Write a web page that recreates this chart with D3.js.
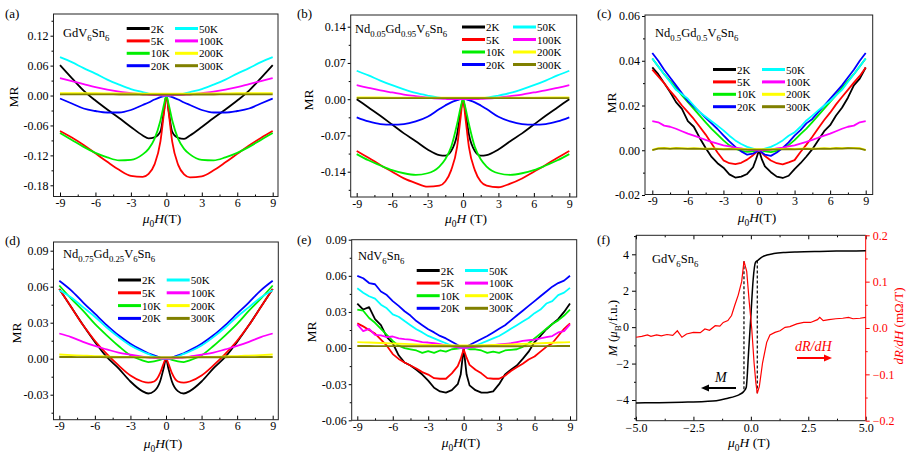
<!DOCTYPE html>
<html>
<head>
<meta charset="utf-8">
<script src="https://cdn.jsdelivr.net/npm/d3@7"></script>
<style>
body { margin: 0; background: #fff; }
text { font-family: "Liberation Serif", "Times New Roman", serif; }
.tick text { font-family: "Liberation Serif", "Times New Roman", serif; font-size: 12px; }
</style>
</head>
<body>
<script>
// ---- data ----
const temps = ["2K", "5K", "10K", "20K", "50K", "100K", "200K", "300K"];
const tempColors = ["#000000", "#ff0000", "#00ee00", "#0000ff", "#00ffff", "#ff00ff", "#ffff00", "#808000"];

// field grid for the smooth panels (a), (b), (d)
const fieldG = [-9,-8,-7,-6,-5,-4,-3,-2,-1.5,-1,-0.5,-0.2,0,0.2,0.5,1,1.5,2,3,4,5,6,7,8,9];

// (a) GdV6Sn6
const mrA = [
  [0.061,0.035,0.010,-0.010,-0.028,-0.045,-0.063,-0.080,-0.086,-0.084,-0.072,-0.030,0,-0.031,-0.073,-0.085,-0.087,-0.080,-0.063,-0.045,-0.028,-0.010,0.010,0.035,0.061],
  [-0.071,-0.084,-0.099,-0.116,-0.133,-0.149,-0.161,-0.163,-0.157,-0.138,-0.092,-0.035,0,-0.035,-0.093,-0.139,-0.158,-0.164,-0.162,-0.150,-0.134,-0.117,-0.100,-0.085,-0.071],
  [-0.075,-0.089,-0.103,-0.115,-0.124,-0.130,-0.129,-0.118,-0.107,-0.087,-0.050,-0.018,0,-0.018,-0.050,-0.087,-0.107,-0.118,-0.129,-0.130,-0.124,-0.115,-0.103,-0.089,-0.075],
  [-0.006,-0.016,-0.026,-0.031,-0.034,-0.034,-0.029,-0.019,-0.014,-0.008,-0.003,-0.001,0,-0.001,-0.003,-0.008,-0.014,-0.019,-0.029,-0.034,-0.034,-0.031,-0.026,-0.016,-0.006],
  [0.077,0.067,0.055,0.044,0.032,0.022,0.013,0.007,0.004,0.002,0.0005,0,0,0,0.0005,0.002,0.004,0.007,0.013,0.022,0.032,0.044,0.055,0.067,0.077],
  [0.035,0.029,0.023,0.017,0.012,0.008,0.005,0.002,0.0015,0.001,0.0003,0,0,0,0.0003,0.001,0.0015,0.002,0.005,0.008,0.012,0.017,0.023,0.029,0.035],
  [0.005,0.005,0.0048,0.0046,0.0045,0.0044,0.0042,0.004,0.004,0.004,0.004,0.004,0.004,0.004,0.004,0.004,0.004,0.004,0.0042,0.0044,0.0045,0.0046,0.0048,0.005,0.005],
  [0.0025,0.0024,0.0023,0.0022,0.0022,0.0021,0.0021,0.002,0.002,0.002,0.002,0.002,0.002,0.002,0.002,0.002,0.002,0.002,0.0021,0.0021,0.0022,0.0022,0.0023,0.0024,0.0025]
];

// (b) Nd0.05Gd0.95V6Sn6
const mrB = [
  [0.000,-0.016,-0.032,-0.049,-0.066,-0.081,-0.097,-0.108,-0.109,-0.100,-0.068,-0.024,0,-0.024,-0.068,-0.100,-0.109,-0.108,-0.097,-0.081,-0.066,-0.049,-0.032,-0.016,0.000],
  [-0.100,-0.113,-0.127,-0.140,-0.153,-0.162,-0.169,-0.167,-0.159,-0.137,-0.092,-0.035,0,-0.035,-0.092,-0.137,-0.159,-0.167,-0.170,-0.163,-0.153,-0.140,-0.127,-0.113,-0.100],
  [-0.106,-0.118,-0.128,-0.137,-0.143,-0.146,-0.143,-0.130,-0.116,-0.092,-0.048,-0.016,0,-0.016,-0.048,-0.092,-0.116,-0.130,-0.143,-0.146,-0.143,-0.137,-0.128,-0.118,-0.106],
  [-0.035,-0.043,-0.048,-0.049,-0.048,-0.043,-0.034,-0.019,-0.012,-0.006,-0.002,0,0,0,-0.002,-0.006,-0.012,-0.019,-0.034,-0.043,-0.048,-0.049,-0.048,-0.043,-0.035],
  [0.055,0.046,0.036,0.027,0.019,0.012,0.007,0.003,0.002,0.001,0,0,0,0,0,0.001,0.002,0.003,0.007,0.012,0.019,0.027,0.036,0.046,0.055],
  [0.027,0.022,0.017,0.013,0.009,0.006,0.003,0.001,0.0005,0,0,0,0,0,0,0,0.0005,0.001,0.003,0.006,0.009,0.013,0.017,0.022,0.027],
  [0.0035,0.0034,0.0033,0.0032,0.0031,0.003,0.003,0.003,0.003,0.003,0.003,0.003,0.003,0.003,0.003,0.003,0.003,0.003,0.003,0.003,0.0031,0.0032,0.0033,0.0034,0.0035],
  [0.0022,0.0022,0.0021,0.0021,0.002,0.002,0.002,0.002,0.002,0.002,0.002,0.002,0.002,0.002,0.002,0.002,0.002,0.002,0.002,0.002,0.002,0.0021,0.0021,0.0022,0.0022]
];

// (d) Nd0.75Gd0.25V6Sn6
const mrD = [
  [0.058,0.043,0.028,0.014,0.0015,-0.008,-0.019,-0.027,-0.029,-0.027,-0.019,-0.008,0,-0.008,-0.019,-0.027,-0.029,-0.027,-0.019,-0.008,0.0015,0.014,0.028,0.043,0.058],
  [0.058,0.043,0.028,0.015,0.004,-0.0056,-0.014,-0.019,-0.020,-0.019,-0.012,-0.004,0,-0.004,-0.012,-0.019,-0.020,-0.019,-0.014,-0.0056,0.004,0.015,0.028,0.043,0.058],
  [0.061,0.050,0.040,0.029,0.0195,0.0106,0.0028,-0.0014,-0.0028,-0.0022,-0.001,0,0,0,-0.001,-0.0022,-0.0028,-0.0014,0.0028,0.0106,0.0195,0.029,0.040,0.050,0.061],
  [0.065,0.057,0.047,0.0375,0.028,0.0195,0.0125,0.007,0.0045,0.0028,0.001,0,0,0,0.001,0.0028,0.0045,0.007,0.0125,0.0195,0.028,0.0375,0.047,0.057,0.065],
  [0.057,0.051,0.043,0.035,0.026,0.018,0.011,0.006,0.004,0.002,0.0005,0,0,0,0.0005,0.002,0.004,0.006,0.011,0.018,0.026,0.035,0.043,0.051,0.057],
  [0.021,0.018,0.014,0.0106,0.0078,0.005,0.0033,0.0017,0.001,0.0006,0.0002,0,0,0,0.0002,0.0006,0.001,0.0017,0.0033,0.005,0.0078,0.0106,0.014,0.018,0.021],
  [0.0035,0.003,0.0026,0.0022,0.0019,0.0016,0.0014,0.0012,0.0011,0.0011,0.001,0.001,0.001,0.001,0.001,0.0011,0.0011,0.0012,0.0014,0.0016,0.0019,0.0022,0.0026,0.003,0.0035],
  [0.0014,0.0014,0.0013,0.0013,0.0012,0.0012,0.0012,0.0011,0.0011,0.0011,0.0011,0.0011,0.0011,0.0011,0.0011,0.0011,0.0011,0.0011,0.0012,0.0012,0.0012,0.0013,0.0013,0.0014,0.0014]
];

// field grid for the noisy panels (c), (e)
const fieldC = [-9,-8.5,-8,-7.5,-7,-6.5,-6,-5.5,-5,-4.5,-4,-3.5,-3,-2.5,-2,-1.5,-1,-0.5,-0.25,0,0.25,0.5,1,1.5,2,2.5,3,3.5,4,4.5,5,5.5,6,6.5,7,7.5,8,8.5,9];

// (c) Nd0.5Gd0.5V6Sn6
const mrC = [
  [0.037,0.034,0.030,0.026,0.0215,0.0185,0.013,0.0105,0.0055,0.001,-0.003,-0.0058,-0.0078,-0.0108,-0.0122,-0.0118,-0.0106,-0.0076,-0.004,0,-0.0042,-0.0072,-0.0098,-0.0118,-0.0124,-0.0114,-0.0084,-0.0058,-0.0028,0.0005,0.0045,0.0085,0.0112,0.0155,0.019,0.0235,0.029,0.032,0.037],
  [0.036,0.033,0.030,0.0265,0.0235,0.020,0.017,0.014,0.0105,0.007,0.003,-0.001,-0.0045,-0.0058,-0.0062,-0.0056,-0.0042,-0.0022,-0.001,0,-0.0012,-0.0026,-0.0046,-0.0058,-0.0063,-0.0054,-0.0044,-0.0008,0.0025,0.006,0.0098,0.0135,0.0168,0.0205,0.0238,0.027,0.0302,0.0332,0.037],
  [0.041,0.0375,0.034,0.031,0.028,0.0245,0.0215,0.0185,0.0155,0.0125,0.0096,0.007,0.0044,0.0022,0.0007,-0.0003,-0.0007,-0.0005,-0.0002,0,-0.0002,-0.0005,-0.0008,-0.0003,0.0008,0.0023,0.0045,0.0072,0.0097,0.0126,0.0156,0.0186,0.0216,0.0246,0.028,0.031,0.034,0.0375,0.041],
  [0.0435,0.040,0.036,0.0325,0.029,0.0255,0.022,0.0195,0.017,0.0145,0.012,0.0095,0.0067,0.004,0.0015,-0.0005,-0.002,-0.0015,-0.0008,0,-0.001,-0.002,-0.0025,-0.001,0.001,0.0035,0.0065,0.009,0.012,0.014,0.017,0.020,0.023,0.026,0.029,0.0325,0.036,0.040,0.0435],
  [0.041,0.0375,0.034,0.0305,0.027,0.025,0.023,0.020,0.017,0.015,0.013,0.011,0.0089,0.0065,0.0044,0.0028,0.0015,0.0007,0.0003,0,0.0003,0.0007,0.0015,0.0028,0.0044,0.0065,0.008,0.0105,0.0133,0.0155,0.0178,0.020,0.022,0.0245,0.027,0.0305,0.034,0.0375,0.041],
  [0.013,0.0125,0.011,0.0105,0.0096,0.0085,0.0074,0.0065,0.0056,0.0046,0.0037,0.003,0.0022,0.0017,0.0012,0.0008,0.0003,0.0001,0,0,0,0.0001,0.0003,0.0008,0.0012,0.0017,0.0022,0.003,0.0037,0.0046,0.0056,0.0065,0.0074,0.0085,0.0096,0.0105,0.011,0.0125,0.013],
  [0.0002,0.0009,0.001,0.0008,0.001,0.0009,0.0008,0.0009,0.0008,0.0007,0.0008,0.0007,0.0006,0.0007,0.0006,0.0006,0.0005,0.0005,0.0005,0.0005,0.0005,0.0005,0.0005,0.0006,0.0006,0.0007,0.0006,0.0007,0.0008,0.0007,0.0008,0.0009,0.0008,0.001,0.0009,0.0011,0.001,0.0009,0.0002],
  [0.0001,0.0007,0.0008,0.0006,0.0008,0.0007,0.0006,0.0007,0.0006,0.0005,0.0006,0.0005,0.0004,0.0005,0.0004,0.0004,0.0003,0.0003,0.0003,0.0003,0.0003,0.0003,0.0003,0.0004,0.0004,0.0005,0.0004,0.0005,0.0006,0.0005,0.0006,0.0007,0.0006,0.0008,0.0007,0.0009,0.0008,0.0007,0.0001]
];

// (e) NdV6Sn6
const mrE = [
  [0.037,0.032,0.034,0.024,0.019,0.009,0.004,-0.006,-0.012,-0.0145,-0.018,-0.022,-0.027,-0.033,-0.036,-0.037,-0.035,-0.030,-0.022,0,-0.022,-0.031,-0.035,-0.037,-0.037,-0.036,-0.030,-0.022,-0.018,-0.0145,-0.009,-0.003,0.005,0.010,0.0156,0.020,0.024,0.030,0.037],
  [0.0205,0.018,0.015,0.012,0.007,0.002,-0.005,-0.009,-0.012,-0.0145,-0.017,-0.020,-0.022,-0.025,-0.0255,-0.0255,-0.021,-0.015,-0.009,-0.001,-0.008,-0.014,-0.018,-0.021,-0.025,-0.0255,-0.0255,-0.023,-0.019,-0.016,-0.013,-0.0095,-0.007,-0.003,0.001,0.004,0.010,0.016,0.0205],
  [0.032,0.031,0.025,0.021,0.016,0.011,0.006,0.002,0.000,-0.001,-0.002,-0.004,-0.0025,-0.004,-0.002,-0.003,-0.001,-0.0005,0,0,0,-0.001,-0.001,-0.002,-0.004,-0.003,-0.004,-0.002,-0.0015,-0.001,0.001,0.004,0.008,0.012,0.016,0.020,0.023,0.027,0.032],
  [0.060,0.058,0.054,0.053,0.047,0.044,0.039,0.035,0.0306,0.027,0.0224,0.019,0.0156,0.013,0.0101,0.008,0.0052,0.0025,0.001,0,0.001,0.0025,0.005,0.0075,0.010,0.013,0.016,0.019,0.023,0.027,0.031,0.035,0.039,0.043,0.047,0.051,0.054,0.056,0.060],
  [0.0497,0.046,0.043,0.041,0.036,0.033,0.028,0.026,0.0224,0.019,0.0156,0.013,0.0101,0.008,0.006,0.004,0.0019,0.0005,0,0,0,0.0005,0.002,0.004,0.006,0.008,0.010,0.013,0.016,0.019,0.022,0.025,0.029,0.032,0.037,0.039,0.044,0.046,0.050],
  [0.0197,0.014,0.016,0.011,0.0106,0.009,0.0096,0.008,0.0074,0.007,0.006,0.005,0.0046,0.004,0.0033,0.0022,0.0014,0.0005,0.0002,0,0.0002,0.0005,0.001,0.0015,0.002,0.0025,0.003,0.0035,0.004,0.005,0.006,0.0065,0.007,0.008,0.009,0.010,0.013,0.014,0.0197],
  [0.005,0.0048,0.0046,0.0044,0.0042,0.004,0.0038,0.0036,0.0034,0.0032,0.003,0.0028,0.0027,0.0026,0.0025,0.0024,0.0023,0.0022,0.0022,0.0022,0.0022,0.0022,0.0023,0.0024,0.0025,0.0026,0.0027,0.0028,0.003,0.0032,0.0034,0.0036,0.0038,0.004,0.0042,0.0044,0.0046,0.0048,0.005],
  [0.0017,0.0017,0.0017,0.0016,0.0016,0.0016,0.0016,0.0016,0.0015,0.0015,0.0015,0.0015,0.0015,0.0015,0.0015,0.0015,0.0015,0.0015,0.0015,0.0015,0.0015,0.0015,0.0015,0.0015,0.0015,0.0015,0.0015,0.0015,0.0015,0.0015,0.0015,0.0016,0.0016,0.0016,0.0016,0.0016,0.0017,0.0017,0.0017]
];

// (f) GdV6Sn6 magnetisation and dR/dH
const fieldM = [-5,-4,-3,-2,-1.5,-1,-0.7,-0.5,-0.3,-0.2,-0.1,0,0.1,0.2,0.3,0.5,0.7,1,1.5,2,3,4,5];
const magM = [-4.16,-4.15,-4.12,-4.08,-4.04,-3.9,-3.8,-3.7,-3.52,-3.3,-1.4,0.6,2.6,3.55,3.66,3.86,3.96,4.04,4.1,4.13,4.16,4.18,4.19];
const fieldR = [-5,-4.75,-4.5,-4.35,-4.1,-3.9,-3.65,-3.4,-3.2,-3.0,-2.8,-2.5,-2.2,-2.0,-1.8,-1.55,-1.35,-1.2,-1.0,-0.84,-0.7,-0.55,-0.4,-0.3,-0.18,-0.07,0.04,0.14,0.22,0.28,0.37,0.51,0.69,0.83,1.05,1.27,1.49,1.7,2.0,2.3,2.6,2.9,3.0,3.15,3.4,3.7,4.0,4.25,4.45,4.75,5];
const dRdH = [-0.020,-0.018,-0.015,-0.018,-0.015,-0.017,-0.014,-0.016,-0.006,-0.020,-0.013,-0.0095,-0.010,-0.002,-0.005,0.005,0.004,0.012,0.016,0.027,0.049,0.071,0.100,0.144,0.122,0.056,-0.002,-0.075,-0.119,-0.141,-0.126,-0.075,-0.031,-0.015,-0.0095,-0.006,0.0015,0.003,0.009,0.012,0.012,0.018,0.023,0.016,0.018,0.020,0.021,0.023,0.020,0.021,0.023];

// tick values
const xTicksMR = [-9, -6, -3, 0, 3, 6, 9];
const yTicksA = [-0.18, -0.12, -0.06, 0, 0.06, 0.12];
const yTicksB = [-0.14, -0.07, 0, 0.07, 0.14];
const yTicksC = [-0.02, 0, 0.02, 0.04, 0.06];
const yTicksD = [-0.03, 0, 0.03, 0.06, 0.09];
const yTicksE = [-0.06, -0.03, 0, 0.03, 0.06, 0.09];
const xTicksF = [-5, -2.5, 0, 2.5, 5];
const yTicksM = [-4, -2, 0, 2, 4];
const yTicksR = [-0.2, -0.1, 0, 0.1, 0.2];

// sample names: [text, kind] kind 0 normal, 1 subscript, 2 italic
const sampleA = [["GdV",0],["6",1],["Sn",0],["6",1]];
const sampleB = [["Nd",0],["0.05",1],["Gd",0],["0.95",1],["V",0],["6",1],["Sn",0],["6",1]];
const sampleC = [["Nd",0],["0.5",1],["Gd",0],["0.5",1],["V",0],["6",1],["Sn",0],["6",1]];
const sampleD = [["Nd",0],["0.75",1],["Gd",0],["0.25",1],["V",0],["6",1],["Sn",0],["6",1]];
const sampleE = [["NdV",0],["6",1],["Sn",0],["6",1]];

// ---- layout ----
const mrPanels = [
  {tag:"(a)", tagPos:[5,18], frame:[53.5,14,278,196.5], xRange:[60,272.7], yTicks:yTicksA, yRange:[35.7,185.3], field:fieldG, series:mrA, curve:d3.curveMonotoneX, sample:sampleA, samplePos:[63,37], legend:[126.7,175,28.5,12.4], yLab:[17.5,97], xLab:[162,223], xSpace:""},
  {tag:"(b)", tagPos:[297,18], frame:[350.7,15,576.7,197], xRange:[356.7,569.3], yTicks:yTicksB, yRange:[26.7,171.7], field:fieldG, series:mrB, curve:d3.curveMonotoneX, sample:sampleB, samplePos:[355,33], legend:[462,513,27,12.5], yLab:[313,100], xLab:[466,223], xSpace:" "},
  {tag:"(c)", tagPos:[597,18], frame:[645,15,872.7,194.5], xRange:[652.3,865.7], yTicks:yTicksC, yRange:[16,195], field:fieldC, series:mrC, curve:d3.curveLinear, sample:sampleC, samplePos:[655,37], legend:[713,762,69.5,12.4], yLab:[615.5,103], xLab:[757,222], xSpace:""},
  {tag:"(d)", tagPos:[5,245], frame:[53.5,242,278.3,419.7], xRange:[59.3,272.7], yTicks:yTicksD, yRange:[250.7,394.7], field:fieldG, series:mrD, curve:d3.curveMonotoneX, sample:sampleD, samplePos:[63,258], legend:[118,166.7,280,12.8], yLab:[20.5,333], xLab:[163,448], xSpace:""},
  {tag:"(e)", tagPos:[297,244], frame:[351.7,239.7,576.7,420.3], xRange:[357.3,570], yTicks:yTicksE, yRange:[239.7,420.3], field:fieldC, series:mrE, curve:d3.curveLinear, sample:sampleE, samplePos:[358,260], legend:[416.7,465,270.5,12.6], yLab:[316,332], xLab:[461,447], xSpace:""}
];

const svg = d3.select("body").append("svg")
  .attr("width", 911)
  .attr("height", 458)
  .style("background", "#fff");

function richText(sel, segs, size) {
  let down = false;
  segs.forEach(([t, k]) => {
    const ts = sel.append("tspan").text(t);
    if (k === 1) {
      ts.attr("font-size", size * 0.7).attr("dy", down ? 0 : size * 0.3);
      down = true;
    } else {
      if (down) ts.attr("dy", -size * 0.3);
      down = false;
      if (k === 2) ts.attr("font-style", "italic");
    }
  });
}

function minorTicks(major, scale, p0, p1) {
  const step = major[1] - major[0];
  const a = scale.invert(p0), b = scale.invert(p1);
  const lo = Math.min(a, b), hi = Math.max(a, b);
  const out = [];
  for (let v = major[0] - step / 2; v <= hi + 1e-9; v += step)
    if (v >= lo - 1e-9) out.push(v);
  return out;
}

const fmtHyph = d => (d < 0 ? "-" : "") + Math.abs(d).toFixed(2);
const fmtInt = d => (d < 0 ? "-" : "") + Math.abs(d);

mrPanels.forEach((p, pi) => {
  const [fx0, fy0, fx1, fy1] = p.frame;
  const g = svg.append("g");
  const x = d3.scaleLinear().domain([-9, 9]).range(p.xRange);
  const yt = p.yTicks;
  const y = d3.scaleLinear().domain([yt[yt.length - 1], yt[0]]).range(p.yRange);

  // axes
  const bottom = g.append("g").attr("transform", `translate(0,${fy1})`);
  bottom.call(d3.axisBottom(x).tickValues(xTicksMR).tickSize(-4).tickPadding(2).tickFormat(fmtInt));
  bottom.append("g").call(d3.axisBottom(x).tickValues(minorTicks(xTicksMR, x, fx0, fx1)).tickSize(-2).tickFormat(""));
  const left = g.append("g").attr("transform", `translate(${fx0},0)`);
  left.call(d3.axisLeft(y).tickValues(yt).tickSize(3).tickPadding(2).tickFormat(fmtHyph));
  left.append("g").call(d3.axisLeft(y).tickValues(minorTicks(yt, y, fy1, fy0)).tickSize(2).tickFormat(""));
  g.selectAll(".domain").remove();

  // curves
  const clipId = "clip" + pi;
  g.append("clipPath").attr("id", clipId).append("rect")
    .attr("x", fx0).attr("y", fy0).attr("width", fx1 - fx0).attr("height", fy1 - fy0);
  const line = d3.line().x(d => x(d[0])).y(d => y(d[1])).curve(p.curve);
  g.append("g").attr("clip-path", `url(#${clipId})`)
    .selectAll("path").data(p.series).join("path")
    .attr("d", s => line(d3.zip(p.field, s)))
    .attr("fill", "none")
    .attr("stroke", (s, i) => tempColors[i])
    .attr("stroke-width", 1.8)
    .attr("stroke-linejoin", "round");

  g.append("rect")
    .attr("x", fx0).attr("y", fy0).attr("width", fx1 - fx0).attr("height", fy1 - fy0)
    .attr("fill", "none").attr("stroke", "#222").attr("stroke-width", 1);

  // legend
  const [c1, c2, ly0, ldy] = p.legend;
  temps.forEach((t, i) => {
    const cx = i < 4 ? c1 : c2;
    const yy = ly0 + (i % 4) * ldy;
    g.append("line").attr("x1", cx).attr("x2", cx + 23).attr("y1", yy).attr("y2", yy)
      .attr("stroke", tempColors[i]).attr("stroke-width", 3);
    g.append("text").attr("x", cx + 24).attr("y", yy + 4).attr("font-size", 11).text(t);
  });

  // texts
  richText(g.append("text").attr("x", p.samplePos[0]).attr("y", p.samplePos[1]).attr("font-size", 12.5), p.sample, 12.5);
  g.append("text").attr("x", p.tagPos[0]).attr("y", p.tagPos[1]).attr("font-size", 13).text(p.tag);
  g.append("text").attr("transform", `translate(${p.yLab[0]},${p.yLab[1]}) rotate(-90)`)
    .attr("text-anchor", "middle").attr("font-size", 13.5).text("MR");
  richText(g.append("text").attr("x", p.xLab[0]).attr("y", p.xLab[1]).attr("text-anchor", "middle").attr("font-size", 13.5),
    [["μ",2],["0",1],["H",2],[p.xSpace + "(T)",0]], 13.5);
});

// ---- panel (f) ----
(function () {
  const [fx0, fy0, fx1, fy1] = [636, 235.3, 865.7, 420.7];
  const g = svg.append("g");
  const x = d3.scaleLinear().domain([-5, 5]).range([fx0, fx1]);
  const yL = d3.scaleLinear().domain([4, -4]).range([254.3, 400]);
  const yR = d3.scaleLinear().domain([0.2, -0.2]).range([fy0, fy1]);
  const fmtMinus1 = d => (d < 0 ? "\u2212" : "") + Math.abs(d).toFixed(1);
  const fmtMinus0 = d => (d < 0 ? "\u2212" : "") + Math.abs(d);

  const bottom = g.append("g").attr("transform", `translate(0,${fy1})`);
  bottom.call(d3.axisBottom(x).tickValues(xTicksF).tickSize(-4).tickPadding(3).tickFormat(fmtMinus1));
  bottom.append("g").call(d3.axisBottom(x).tickValues(minorTicks(xTicksF, x, fx0, fx1)).tickSize(-2).tickFormat(""));
  const top = g.append("g").attr("transform", `translate(0,${fy0})`);
  top.call(d3.axisTop(x).tickValues(xTicksF).tickSize(-4).tickFormat(""));
  top.append("g").call(d3.axisTop(x).tickValues(minorTicks(xTicksF, x, fx0, fx1)).tickSize(-2).tickFormat(""));
  const left = g.append("g").attr("transform", `translate(${fx0},0)`);
  left.call(d3.axisLeft(yL).tickValues(yTicksM).tickSize(4).tickPadding(3).tickFormat(fmtMinus0));
  left.append("g").call(d3.axisLeft(yL).tickValues(minorTicks(yTicksM, yL, fy1, fy0)).tickSize(2).tickFormat(""));
  const right = g.append("g").attr("transform", `translate(${fx1},0)`).attr("color", "#ff0000");
  right.call(d3.axisRight(yR).tickValues(yTicksR).tickSize(4).tickPadding(3).tickFormat(fmtMinus1));
  right.append("g").call(d3.axisRight(yR).tickValues(minorTicks(yTicksR, yR, fy1, fy0)).tickSize(2).tickFormat(""));
  g.selectAll(".domain").remove();
  right.selectAll("text").attr("fill", "#ff0000");

  g.append("path").attr("d", `M${fx1},${fy0}H${fx0}V${fy1}H${fx1}`)
    .attr("fill", "none").attr("stroke", "#222");
  g.append("line").attr("x1", fx1).attr("x2", fx1).attr("y1", fy0).attr("y2", fy1)
    .attr("stroke", "#ff0000");

  // magnetisation
  const lineM = d3.line().x(d => x(d[0])).y(d => yL(d[1])).curve(d3.curveMonotoneX);
  g.append("path").attr("d", lineM(d3.zip(fieldM, magM)))
    .attr("fill", "none").attr("stroke", "#000").attr("stroke-width", 1.5);

  // dashed guides linking the dR/dH extrema to M
  const iMax = d3.maxIndex(dRdH), iMin = d3.minIndex(dRdH);
  const mAt = h => magM[d3.minIndex(fieldM, f => Math.abs(f - h))];
  [[fieldR[iMax], yR(dRdH[iMax]), yL(mAt(fieldR[iMax]))],
   [fieldR[iMin], yL(mAt(fieldR[iMin])), yR(dRdH[iMin])]].forEach(([h, y1, y2]) => {
    g.append("line").attr("x1", x(h)).attr("x2", x(h)).attr("y1", y1).attr("y2", y2)
      .attr("stroke", "#000").attr("stroke-width", 1.2).attr("stroke-dasharray", "3,2");
  });

  // dR/dH
  const lineR = d3.line().x(d => x(d[0])).y(d => yR(d[1]));
  g.append("path").attr("d", lineR(d3.zip(fieldR, dRdH)))
    .attr("fill", "none").attr("stroke", "#ff0000").attr("stroke-width", 1.2);

  // annotations
  g.append("text").attr("x", 597).attr("y", 244).attr("font-size", 13).text("(f)");
  richText(g.append("text").attr("x", 652).attr("y", 263).attr("font-size", 12.5), sampleA, 12.5);
  g.append("text").attr("x", 715).attr("y", 382).attr("font-size", 14).attr("font-style", "italic").text("M");
  g.append("line").attr("x1", 736).attr("x2", 707).attr("y1", 388).attr("y2", 388).attr("stroke", "#000").attr("stroke-width", 2);
  g.append("path").attr("d", "M701,388L709,384.5L709,391.5Z").attr("fill", "#000");
  g.append("text").attr("x", 795).attr("y", 351).attr("font-size", 14).attr("font-style", "italic")
    .attr("fill", "#ff0000").text("dR/dH");
  g.append("line").attr("x1", 797).attr("x2", 825).attr("y1", 358).attr("y2", 358).attr("stroke", "#ff0000").attr("stroke-width", 2);
  g.append("path").attr("d", "M832,358L824,354.5L824,361.5Z").attr("fill", "#ff0000");

  richText(g.append("text").attr("transform", "translate(617,328) rotate(-90)")
    .attr("text-anchor", "middle").attr("font-size", 13),
    [["M",2],[" (",0],["μ",2],["B",1],["/f.u.)",0]], 13);
  richText(g.append("text").attr("transform", "translate(903,326) rotate(-90)")
    .attr("text-anchor", "middle").attr("font-size", 13).attr("fill", "#ff0000"),
    [["dR/dH",2],[" (mΩ/T)",0]], 13);
  richText(g.append("text").attr("x", 749).attr("y", 447).attr("text-anchor", "middle").attr("font-size", 13.5),
    [["μ",2],["0",1],["H",2],[" (T)",0]], 13.5);
})();
</script>
</body>
</html>
